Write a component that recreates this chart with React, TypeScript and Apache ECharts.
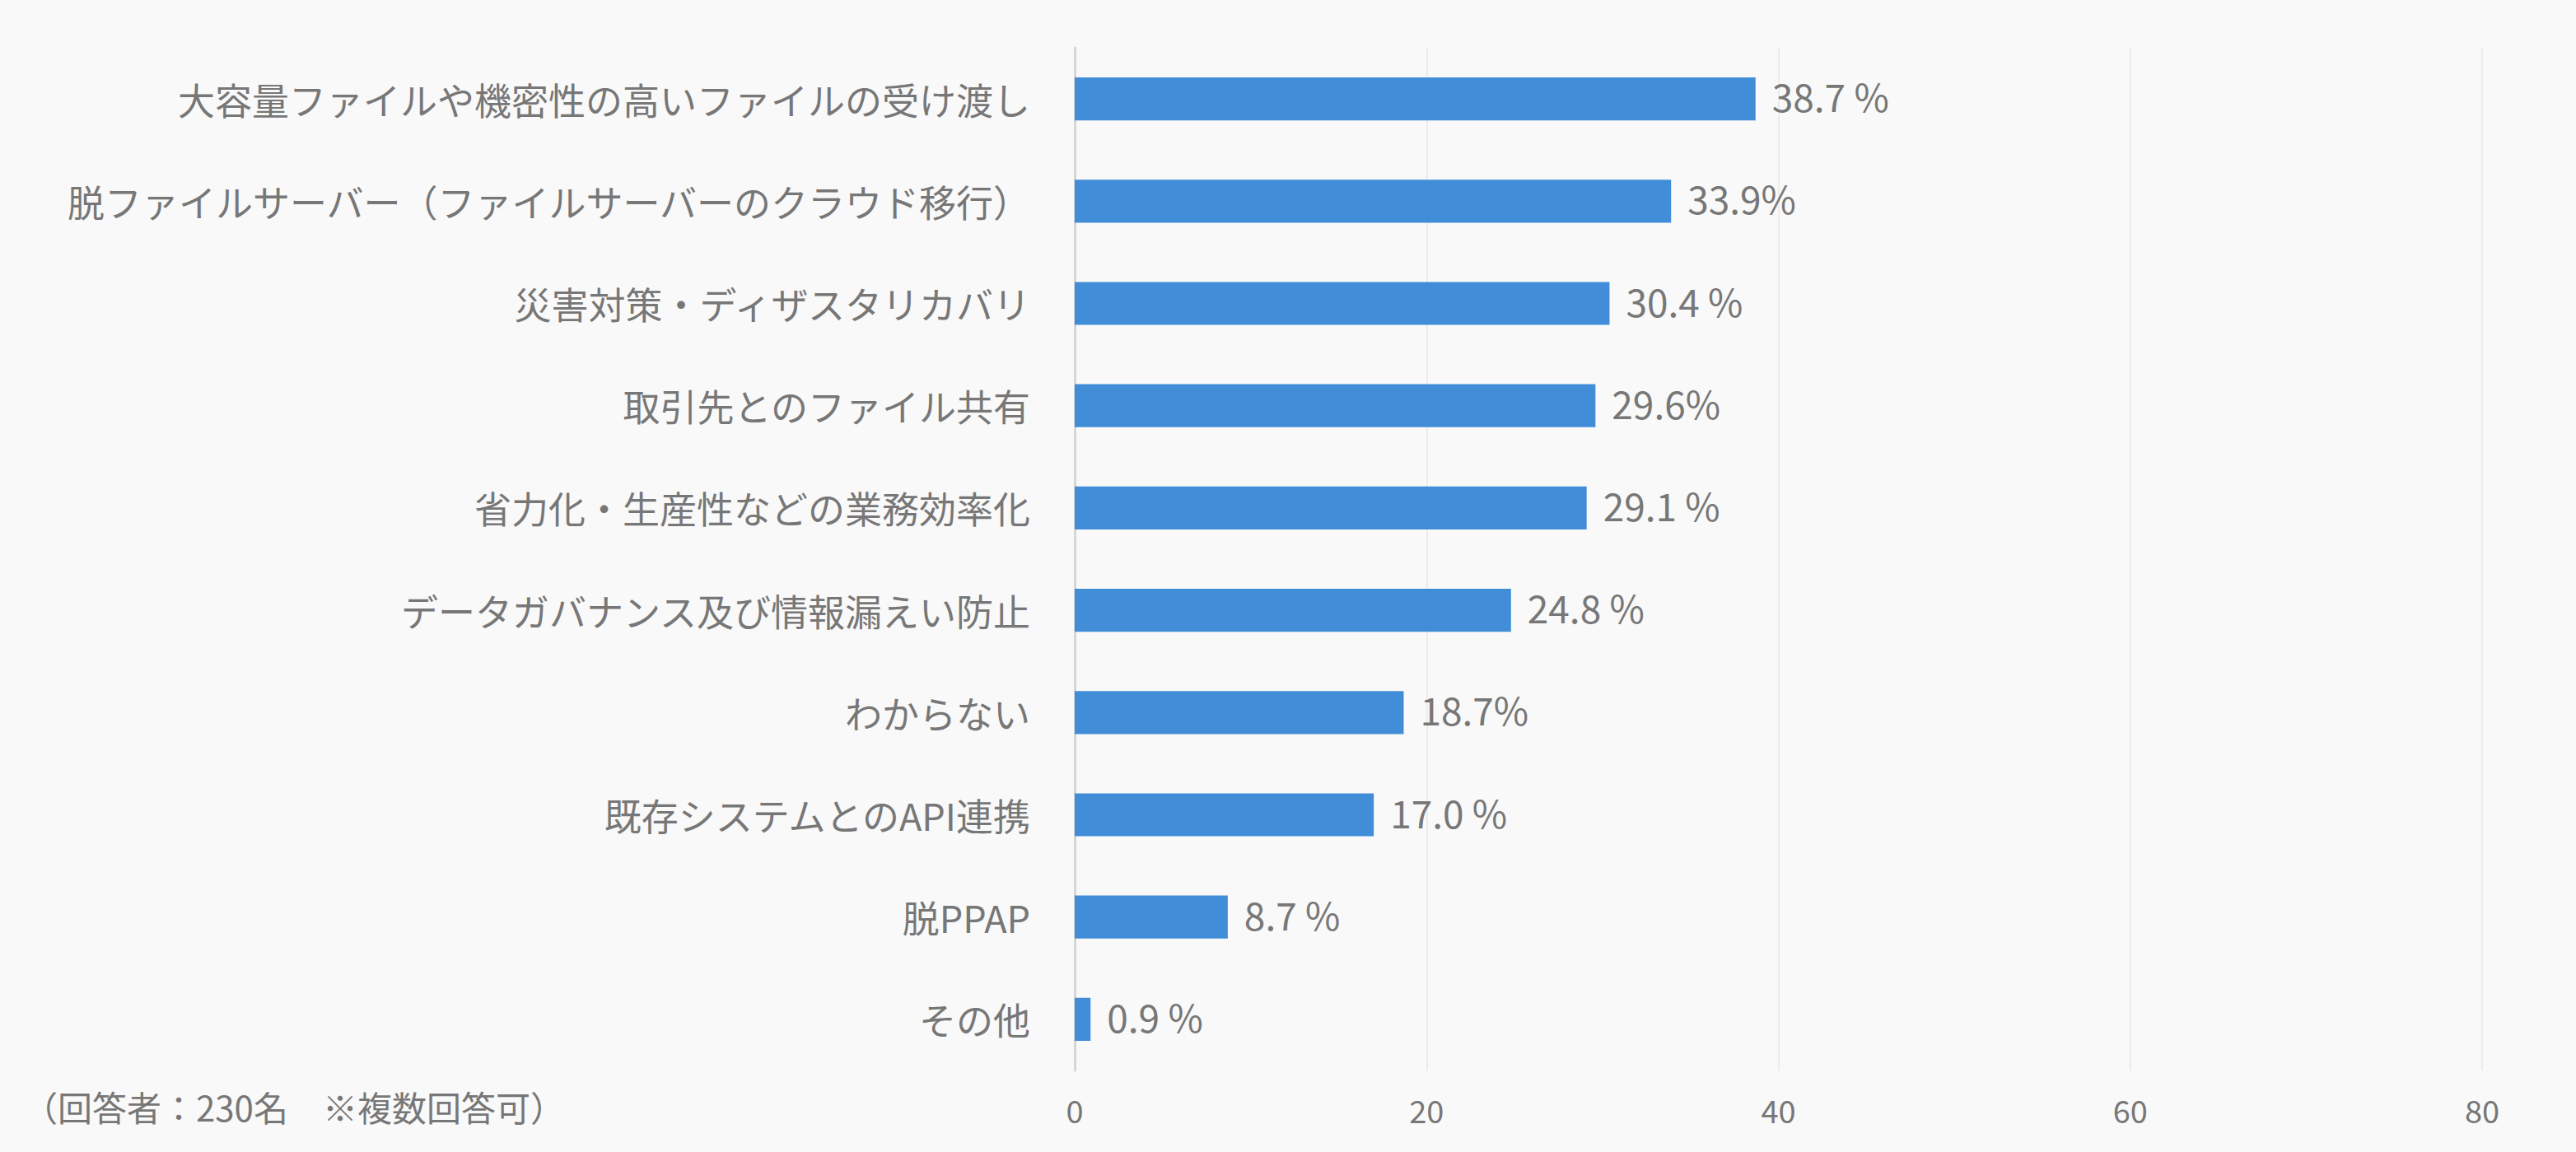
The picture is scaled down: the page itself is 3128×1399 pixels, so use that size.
import React, { useEffect, useRef } from "react";
import * as echarts from "echarts";

const categories = [
  "大容量ファイルや機密性の高いファイルの受け渡し",
  "脱ファイルサーバー（ファイルサーバーのクラウド移行）",
  "災害対策・ディザスタリカバリ",
  "取引先とのファイル共有",
  "省力化・生産性などの業務効率化",
  "データガバナンス及び情報漏えい防止",
  "わからない",
  "既存システムとのAPI連携",
  "脱PPAP",
  "その他",
];
const values = [38.7, 33.9, 30.4, 29.6, 29.1, 24.8, 18.7, 17.0, 8.7, 0.9];
const valueLabels = ["38.7 %", "33.9%", "30.4 %", "29.6%", "29.1 %", "24.8 %", "18.7%", "17.0 %", "8.7 %", "0.9 %"];
const xTicks = [0, 20, 40, 60, 80];
const footnote = "（回答者：230名　※複数回答可）";

const FONT = "'Noto Sans CJK JP', 'Noto Sans', sans-serif";
const TEXT = "#777777";

export default function App() {
  const ref = useRef<HTMLDivElement>(null);
  useEffect(() => {
    if (!ref.current) return;
    const chart = echarts.init(ref.current, null, { renderer: "svg" });
    chart.setOption({
      animation: false,
      backgroundColor: "#f9f9f9",
      textStyle: { fontFamily: FONT },
      grid: { left: 1305, right: 114, top: 58, bottom: 99, containLabel: false },
      xAxis: {
        type: "value",
        min: xTicks[0],
        max: xTicks[xTicks.length - 1],
        interval: 20,
        axisLine: { show: false },
        axisTick: { show: false },
        splitLine: { show: true, lineStyle: { color: "#ececec", width: 2 } },
        axisLabel: { color: TEXT, fontSize: 38, margin: 28, fontFamily: FONT },
      },
      yAxis: {
        type: "category",
        data: categories,
        inverse: true,
        axisLine: { show: true, lineStyle: { color: "#d6d6d6", width: 3 } },
        axisTick: { show: false },
        axisLabel: {
          color: TEXT,
          fontSize: 45,
          margin: 54,
          padding: [0, 0, 6, 0],
          fontFamily: FONT,
        },
      },
      series: [
        {
          type: "bar",
          data: values,
          barWidth: "42%",
          itemStyle: { color: "#418dd8" },
          label: {
            show: true,
            position: "right",
            distance: 20,
            offset: [0, -4],
            color: TEXT,
            fontSize: 46,
            fontFamily: FONT,
            formatter: (p: any) => valueLabels[p.dataIndex],
          },
        },
      ],
      graphic: [
        {
          type: "text",
          left: 28,
          top: 1322,
          style: { text: footnote, fill: TEXT, fontSize: 42, fontFamily: FONT },
        },
      ],
    });
    return () => chart.dispose();
  }, []);
  return (
    <div
      ref={ref}
      style={{ position: "absolute", left: 0, top: 0, width: 3128, height: 1399 }}
    />
  );
}
